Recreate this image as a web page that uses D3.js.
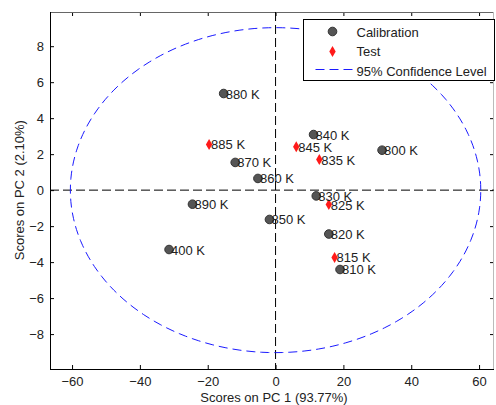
<!DOCTYPE html>
<meta charset="utf-8">
<head>
  <title>PCA Scores</title>
  <script src="https://d3js.org/d3.v7.min.js"></script>
  <style>
    body { margin: 0; background: #fff; font-family: "Liberation Sans", Arial, sans-serif; }
  </style>
</head>
<body>
<div id="my_dataviz"></div>
<script>
// calibration samples (grey circles)
var calLabels = ["880 K", "870 K", "860 K", "890 K", "850 K", "400 K", "840 K", "800 K", "830 K", "820 K", "810 K"];
var calPC1 = [-15.3, -11.9, -5.2, -24.5, -1.8, -31.4, 11.2, 31.4, 12.0, 15.7, 19.0];
var calPC2 = [5.37, 1.54, 0.65, -0.78, -1.63, -3.3, 3.09, 2.22, -0.32, -2.44, -4.41];

// test samples (red diamonds)
var testLabels = ["885 K", "845 K", "835 K", "825 K", "815 K"];
var testPC1 = [-19.6, 6.1, 12.9, 15.7, 17.4];
var testPC2 = [2.54, 2.41, 1.7, -0.8, -3.74];

// 95% confidence ellipse semi-axes
var ellipseA = 60.5, ellipseB = 9.03;

var xTicks = [-60, -40, -20, 0, 20, 40, 60];
var yTicks = [-8, -6, -4, -2, 0, 2, 4, 6, 8];
var legendItems = ["Calibration", "Test", "95% Confidence Level"];

var width = 496, height = 405;
var margin = {top: 12, right: 2, bottom: 36, left: 50};
var innerW = width - margin.left - margin.right,
    innerH = height - margin.top - margin.bottom;

var x = d3.scaleLinear().domain([-66.5, 64.4]).range([0, innerW]);
var y = d3.scaleLinear().domain([-9.94, 9.9]).range([innerH, 0]);

var svg = d3.select("#my_dataviz").append("svg")
    .attr("width", width).attr("height", height)
    .style("font-family", "'Liberation Sans', Arial, sans-serif");

var g = svg.append("g").attr("transform", "translate(" + margin.left + "," + margin.top + ")");

// axes with inward ticks
g.append("g").attr("transform", "translate(0," + innerH + ")")
  .call(d3.axisBottom(x).tickValues(xTicks).tickSizeInner(-4).tickSizeOuter(0).tickPadding(8))
  .call(function(s) { s.select(".domain").remove(); s.selectAll("text").style("font-size", "13px").attr("fill", "#222"); });
g.append("g")
  .call(d3.axisTop(x).tickValues(xTicks).tickSizeInner(-4).tickSizeOuter(0).tickFormat(""))
  .call(function(s) { s.select(".domain").remove(); });
g.append("g")
  .call(d3.axisLeft(y).tickValues(yTicks).tickSizeInner(-4).tickSizeOuter(0).tickPadding(6))
  .call(function(s) { s.select(".domain").remove(); s.selectAll("text").style("font-size", "13px").attr("fill", "#222"); });
g.append("g").attr("transform", "translate(" + innerW + ",0)")
  .call(d3.axisRight(y).tickValues(yTicks).tickSizeInner(-4).tickSizeOuter(0).tickFormat(""))
  .call(function(s) { s.select(".domain").remove(); });

// box
g.append("line").attr("x1", 0).attr("x2", innerW).attr("y1", 0.5).attr("y2", 0.5).attr("stroke", "#666");
g.append("line").attr("x1", 0.5).attr("x2", 0.5).attr("y1", 0).attr("y2", innerH).attr("stroke", "#000");
g.append("line").attr("x1", 0).attr("x2", innerW).attr("y1", innerH + 0.5).attr("y2", innerH + 0.5).attr("stroke", "#000");
g.append("line").attr("x1", innerW - 0.5).attr("x2", innerW - 0.5).attr("y1", 0).attr("y2", innerH).attr("stroke", "#bbb");

// zero lines
g.append("line").attr("x1", 0).attr("x2", innerW).attr("y1", y(0)).attr("y2", y(0))
  .attr("stroke", "#000").attr("stroke-dasharray", "9,4");
g.append("line").attr("x1", x(0)).attr("x2", x(0)).attr("y1", 0).attr("y2", innerH)
  .attr("stroke", "#000").attr("stroke-dasharray", "9,4");

// confidence ellipse
var angles = d3.range(0, 361, 2);
g.append("path")
  .datum(angles)
  .attr("fill", "none").attr("stroke", "#1a1aff").attr("stroke-width", 1)
  .attr("stroke-dasharray", "9,5")
  .attr("d", d3.line()
    .x(function(a) { return x(ellipseA * Math.cos(a * Math.PI / 180)); })
    .y(function(a) { return y(ellipseB * Math.sin(a * Math.PI / 180)); }));

var diamond = "M0,-5.5L3.2,0L0,5.5L-3.2,0Z";

// calibration points
var cal = calLabels.map(function(l, i) { return {label: l, pc1: calPC1[i], pc2: calPC2[i]}; });
var test = testLabels.map(function(l, i) { return {label: l, pc1: testPC1[i], pc2: testPC2[i]}; });

g.selectAll("circle.cal").data(cal).enter().append("circle")
  .attr("cx", function(d) { return x(d.pc1); })
  .attr("cy", function(d) { return y(d.pc2); })
  .attr("r", 4.3).attr("fill", "#555").attr("stroke", "#333");

g.selectAll("path.test").data(test).enter().append("path")
  .attr("d", diamond)
  .attr("transform", function(d) { return "translate(" + x(d.pc1) + "," + y(d.pc2) + ")"; })
  .attr("fill", "#ff1a1a");

g.selectAll("text.lbl").data(cal.concat(test)).enter().append("text")
  .attr("x", function(d) { return x(d.pc1) + 2; })
  .attr("y", function(d) { return y(d.pc2) + 5; })
  .style("font-size", "13px").attr("fill", "#222")
  .text(function(d) { return d.label; });

// axis titles
svg.append("text").attr("x", margin.left + innerW / 2 + 2).attr("y", 402)
  .attr("text-anchor", "middle").style("font-size", "13px").attr("fill", "#222")
  .text("Scores on PC 1 (93.77%)");
svg.append("text").attr("transform", "translate(24," + (margin.top + y(0)) + ") rotate(-90)")
  .attr("text-anchor", "middle").style("font-size", "13px").attr("fill", "#222")
  .text("Scores on PC 2 (2.10%)");

// legend
var lg = svg.append("g").attr("transform", "translate(303.5,19.5)");
lg.append("rect").attr("width", 191).attr("height", 61).attr("fill", "#fff").attr("stroke", "#000");
lg.append("circle").attr("cx", 29).attr("cy", 12).attr("r", 4.3).attr("fill", "#555").attr("stroke", "#333");
lg.append("path").attr("d", diamond).attr("transform", "translate(29,32)").attr("fill", "#ff1a1a");
lg.append("line").attr("x1", 12).attr("x2", 51).attr("y1", 50).attr("y2", 50)
  .attr("stroke", "#1a1aff").attr("stroke-dasharray", "9,5");
lg.selectAll("text").data(legendItems).enter().append("text")
  .attr("x", 53).attr("y", function(d, i) { return 17 + i * 19.5; })
  .style("font-size", "13px").attr("fill", "#222")
  .text(function(d) { return d; });
</script>
</body>
